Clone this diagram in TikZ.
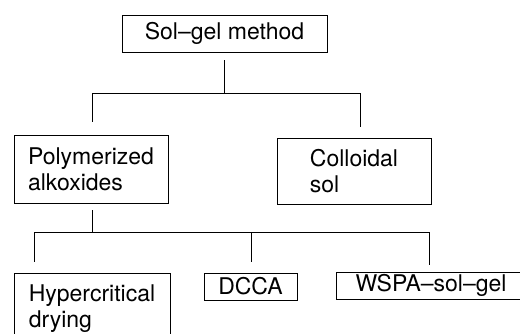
\documentclass[tikz,border=0pt]{standalone}
\usepackage{fontspec}
\setmainfont{TeX Gyre Heros}
\begin{document}
\begin{tikzpicture}[x=1pt,y=-1pt,
  box/.style={draw, rectangle, align=left, inner sep=0pt, line width=0.9pt,
    font=\fontsize{23}{26}\selectfont},
  link/.style={line width=0.9pt}]
\useasboundingbox (0,0) rectangle (520,333);
\clip (0,0) rectangle (520,333);
\node[box, minimum width=205pt, minimum height=37pt] (top) at (224.5,33.5) {Sol--gel method};
\node[box, minimum width=154pt, minimum height=68pt] (poly) at (91,169) {Polymerized\\alkoxides};
\node[box, minimum width=154pt, minimum height=66pt] (coll) at (354,171) {Colloidal\\sol};
\node[box, minimum width=156pt, minimum height=72pt] (hyp) at (92,309) {Hypercritical\\drying};
\node[box, minimum width=93pt, minimum height=27pt] (dcca) at (250.5,286.5) {DCCA};
\node[box, minimum width=190pt, minimum height=27pt] (wspa) at (431,285.5) {WSPA--sol--gel};
\coordinate (j1) at (225,93);
\coordinate (j1l) at (92,93);
\coordinate (j1r) at (360,93);
\coordinate (j2) at (92,232);
\coordinate (j2l) at (34,232);
\coordinate (j2m) at (251,232);
\coordinate (j2r) at (429,232);
\draw[link, shorten <=8pt] (top.south) -- (top.south |- j1);
\draw[link] (j1l) -- (j1r);
\draw[link, shorten >=13pt] (j1l) -- (j1l |- poly.north);
\draw[link, shorten >=11pt] (j1r) -- (j1r |- coll.north);
\draw[link, shorten <=7pt] (j2 |- poly.south) -- (j2);
\draw[link] (j2l) -- (j2r);
\draw[link, shorten >=11pt] (j2l) -- (j2l |- hyp.north);
\draw[link, shorten >=11pt] (j2m) -- (j2m |- dcca.north);
\draw[link, shorten >=7pt] (j2r) -- (j2r |- wspa.north);
\end{tikzpicture}
\end{document}
